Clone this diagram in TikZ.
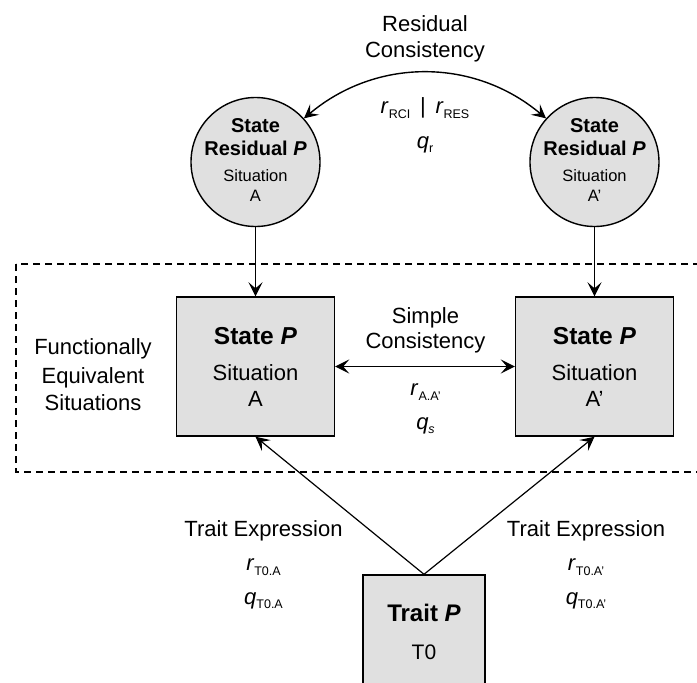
\documentclass[tikz,border=0pt]{standalone}
\usepackage{fontspec}
\setmainfont{Liberation Sans}
\usetikzlibrary{arrows.meta}
\definecolor{boxgray}{RGB}{224,224,224}
\newcommand\fs[1]{\fontsize{#1}{#1}\selectfont}
\newcommand\lsub[1]{\raisebox{-4.5pt}{\fontsize{12.5}{12.5}\selectfont #1}}
\tikzset{
  tip/.tip={Stealth[length=14pt,width=14pt,inset=6pt]},
  box/.style={draw, line width=1.4pt, fill=boxgray, minimum width=158pt, minimum height=139pt, inner sep=0pt},
  circ/.style={circle, draw, line width=1.4pt, fill=boxgray, minimum size=129pt, inner sep=0pt},
  lbl/.style={anchor=base, inner sep=0pt, font=\fs{22}},
  cbold/.style={anchor=base, inner sep=0pt, font=\fs{20}\bfseries},
  csmall/.style={anchor=base, inner sep=0pt, font=\fs{16.5}},
  bbold/.style={anchor=base, inner sep=0pt, font=\fs{24.5}\bfseries},
  arr/.style={-tip, line width=1.4pt},
  dbl/.style={tip-tip, line width=1.4pt},
  grp/.style={dashed, dash pattern=on 7pt off 5pt, line width=1.2pt}
}
\begin{document}
\begin{tikzpicture}[x=1pt,y=-1pt]
\clip (0,0) rectangle (697,683);
\fill[white] (0,0) rectangle (697,683);

% dashed group
\draw[grp] (16,264) rectangle (720,472);

% shapes
\node[circ] (cA) at (255.5,162) {};
\node[circ] (cB) at (594.5,162) {};
\node[box] (bA) at (255.5,366.5) {};
\node[box] (bB) at (594.5,366.5) {};
\node[box, minimum width=122pt, minimum height=150pt] (tr) at (424,650) {};

% connectors
\draw[arr] (cA) -- (bA);
\draw[arr] (cB) -- (bB);
\draw[dbl] (bA) -- (bB);
\draw[dbl] (cA.42) to[bend left=40] (cB.138);
\draw[arr, line width=1.2pt] (tr.north) -- (bA.south);
\draw[arr, line width=1.2pt] (tr.north) -- (bB.south);

% residual consistency labels
\node[lbl] (rc1) at (425,31) {Residual};
\node[lbl] (rc2) at (425,57.5) {Consistency};
\node[lbl] (rrc) at (425,113.7) {\textit{r}\lsub{RCI} \,|\, \textit{r}\lsub{RES}};
\node[lbl] (qr) at (425,148) {\textit{q}\lsub{r}};

% circle texts
\node[cbold] (cA1) at (255.5,132) {State};
\node[cbold] (cA2) at (255.5,155) {Residual \textit{P}};
\node[csmall] (cA3) at (255.5,181.9) {Situation};
\node[csmall] (cA4) at (255.5,201.9) {A};
\node[cbold] (cB1) at (594.5,132) {State};
\node[cbold] (cB2) at (594.5,155) {Residual \textit{P}};
\node[csmall] (cB3) at (594.5,181.9) {Situation};
\node[csmall] (cB4) at (594.5,201.9) {A’};

% box texts
\node[bbold] (bA1) at (255.5,344.8) {State \textit{P}};
\node[lbl] (bA2) at (255.5,380.9) {Situation};
\node[lbl] (bA3) at (255.5,406.9) {A};
\node[bbold] (bB1) at (594.5,344.8) {State \textit{P}};
\node[lbl] (bB2) at (594.5,380.9) {Situation};
\node[lbl] (bB3) at (594.5,406.9) {A’};

% functionally equivalent
\node[lbl] (fe1) at (93,354.6) {Functionally};
\node[lbl] (fe2) at (93,383.6) {Equivalent};
\node[lbl] (fe3) at (93,410) {Situations};

% simple consistency
\node[lbl] (sc1) at (425.5,323) {Simple};
\node[lbl] (sc2) at (425.5,348.6) {Consistency};
\node[lbl] (raa) at (425.5,395.7) {\textit{r}\lsub{A.A’}};
\node[lbl] (qs) at (425.5,429) {\textit{q}\lsub{\textit{s}}};

% trait expression labels
\node[lbl] (te1) at (263.5,536) {Trait Expression};
\node[lbl] (rt1) at (263.5,570.7) {\textit{r}\lsub{T0.A}};
\node[lbl] (qt1) at (263.5,604) {\textit{q}\lsub{T0.A}};
\node[lbl] (te2) at (586,536) {Trait Expression};
\node[lbl] (rt2) at (586,570.7) {\textit{r}\lsub{T0.A’}};
\node[lbl] (qt2) at (586,604) {\textit{q}\lsub{T0.A’}};

% trait texts
\node[bbold, font=\fs{24}\bfseries] (tr1) at (424,621.6) {Trait \textit{P}};
\node[lbl, font=\fs{21}] (tr2) at (424,659.5) {T0};
\end{tikzpicture}
\end{document}
